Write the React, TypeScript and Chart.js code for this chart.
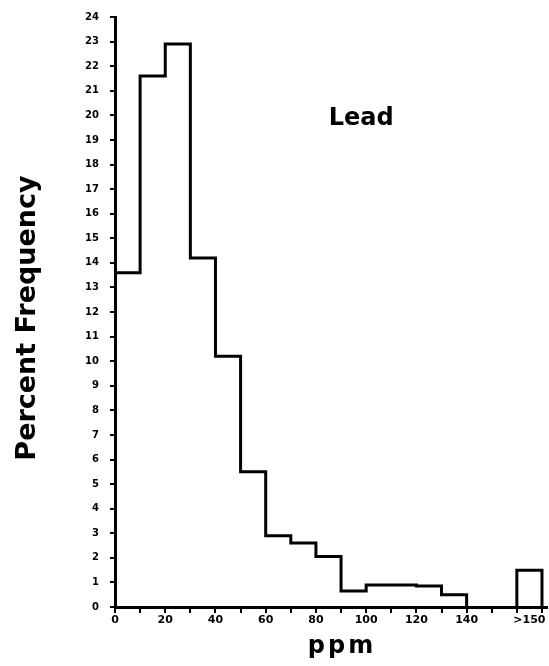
import React, { useEffect, useRef } from 'react';
import { Chart, registerables } from 'chart.js';

Chart.register(...registerables);

// ---- data ----
const binStarts = [0, 10, 20, 30, 40, 50, 60, 70, 80, 90, 100, 110, 120, 130];
const binWidth = 10;
const percentFrequency = [13.6, 21.6, 22.9, 14.2, 10.2, 5.5, 2.9, 2.6, 2.05, 0.65, 0.9, 0.9, 0.85, 0.5];
const overflowBinEdges = [160, 170];
const overflowPercent = 1.5;

const xMinorTicks = [0, 10, 20, 30, 40, 50, 60, 70, 80, 90, 100, 110, 120, 130, 140, 150, 160, 170];
const xLabelValues = [0, 20, 40, 60, 80, 100, 120, 140, 165];
const xLabelTexts = ['0', '20', '40', '60', '80', '100', '120', '140', '>150'];
const yTicks = [0, 1, 2, 3, 4, 5, 6, 7, 8, 9, 10, 11, 12, 13, 14, 15, 16, 17, 18, 19, 20, 21, 22, 23, 24];

const yTitle = 'Percent Frequency';
const xTitle = 'ppm';
const seriesLabel = 'Lead';
const seriesLabelAt = { x: 98, y: 19.6 };

const FONT = '"DejaVu Sans", sans-serif';

const textPlugin = {
  id: 'texts',
  afterDraw(chart: any) {
    const { ctx, chartArea, scales } = chart;
    ctx.save();
    ctx.fillStyle = '#000';
    ctx.textAlign = 'center';
    ctx.textBaseline = 'alphabetic';

    // y title
    ctx.save();
    ctx.font = `bold 27px ${FONT}`;
    ctx.translate(chartArea.left - 80, (chartArea.top + chartArea.bottom) / 2 + 6);
    ctx.rotate(-Math.PI / 2);
    ctx.fillText(yTitle, 0, 0);
    ctx.restore();

    // x title
    ctx.save();
    ctx.font = `bold 24px ${FONT}`;
    (ctx as any).letterSpacing = '3px';
    ctx.fillText(xTitle, chartArea.left + 227, chartArea.bottom + 46);
    ctx.restore();

    // series label
    ctx.save();
    ctx.font = `bold 24px ${FONT}`;
    ctx.fillText(seriesLabel, scales.x.getPixelForValue(seriesLabelAt.x), scales.y.getPixelForValue(seriesLabelAt.y));
    ctx.restore();

    ctx.restore();
  },
};

export default function App() {
  const ref = useRef<HTMLCanvasElement | null>(null);

  useEffect(() => {
    if (!ref.current) return;

    const stepPoints = binStarts.map((x, i) => ({ x, y: percentFrequency[i] }));
    stepPoints.push({ x: binStarts[binStarts.length - 1] + binWidth, y: 0 });

    const overflowPoints = [
      { x: overflowBinEdges[0], y: 0 },
      { x: overflowBinEdges[0], y: overflowPercent },
      { x: overflowBinEdges[1], y: overflowPercent },
      { x: overflowBinEdges[1], y: 0 },
    ];

    const allXTicks = Array.from(new Set([...xMinorTicks, ...xLabelValues])).sort((a, b) => a - b);

    const chart = new Chart(ref.current, {
      type: 'line',
      data: {
        datasets: [
          {
            label: seriesLabel,
            data: stepPoints,
            stepped: 'before',
            borderColor: '#000',
            borderWidth: 3,
            pointRadius: 0,
            fill: false,
            borderJoinStyle: 'miter',
            clip: false,
          } as any,
          {
            label: '>150',
            data: overflowPoints,
            borderColor: '#000',
            borderWidth: 3,
            pointRadius: 0,
            fill: false,
            borderJoinStyle: 'miter',
            clip: false,
          } as any,
        ],
      },
      options: {
        animation: false,
        responsive: false,
        layout: { padding: { top: 16, right: 2, left: 0, bottom: 0 } },
        plugins: {
          legend: { display: false },
          tooltip: { enabled: false },
        },
        scales: {
          x: {
            type: 'linear',
            min: 0,
            max: 172,
            afterBuildTicks: (s: any) => {
              s.ticks = allXTicks.map((v) => ({ value: v }));
            },
            afterFit: (s: any) => {
              s.height = 59;
            },
            ticks: {
              autoSkip: false,
              maxRotation: 0,
              color: '#000',
              padding: 1,
              font: { family: FONT, size: 11, weight: 'bold' },
              callback: (v: any) => {
                const i = xLabelValues.indexOf(Number(v));
                return i >= 0 ? xLabelTexts[i] : '';
              },
            },
            grid: {
              drawOnChartArea: false,
              drawTicks: true,
              tickLength: 6,
              lineWidth: 2,
              color: (c: any) => (c.tick && xMinorTicks.includes(c.tick.value) ? '#000' : 'rgba(0,0,0,0)'),
            },
            border: { display: true, color: '#000', width: 3 },
          },
          y: {
            type: 'linear',
            min: 0,
            max: 24,
            afterBuildTicks: (s: any) => {
              s.ticks = yTicks.map((v) => ({ value: v }));
            },
            afterFit: (s: any) => {
              s.width = 115;
            },
            ticks: {
              autoSkip: false,
              color: '#000',
              padding: 11,
              font: { family: FONT, size: 10, weight: 'bold' },
            },
            grid: {
              drawOnChartArea: false,
              drawTicks: true,
              tickLength: 5,
              lineWidth: 2,
              color: '#000',
            },
            border: { display: true, color: '#000', width: 3 },
          },
        },
      } as any,
      plugins: [textPlugin],
    });

    return () => chart.destroy();
  }, []);

  return (
    <div style={{ position: 'fixed', left: 0, top: 0, width: 549, height: 666, background: '#fff' }}>
      <canvas ref={ref} width={549} height={666} style={{ display: 'block' }} />
    </div>
  );
}
